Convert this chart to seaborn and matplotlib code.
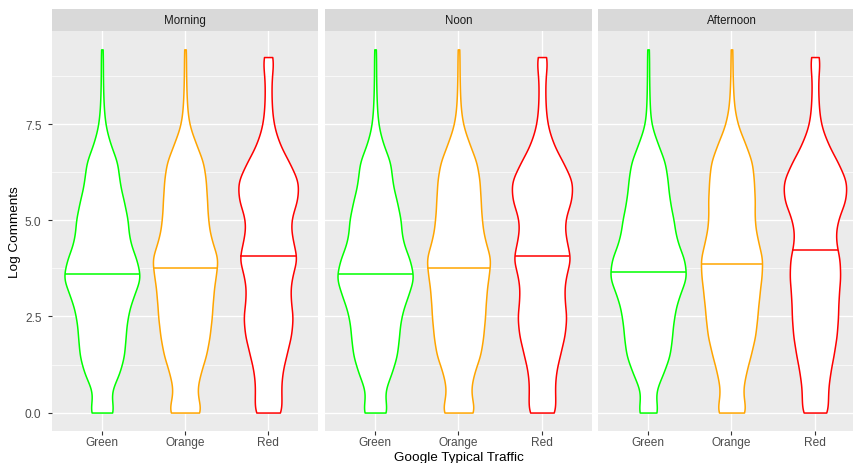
import numpy as np
import pandas as pd
import matplotlib
matplotlib.use("Agg")
import matplotlib.pyplot as plt
import seaborn as sns

# ---------------- data ----------------
periods = ["Morning", "Noon", "Afternoon"]
traffic = ["Green", "Orange", "Red"]
traffic_colors = ["#00FF00", "#FFA500", "#FF0000"]

# value levels of log comments at which the density profile was read
levels_base = [0.0, 0.5, 1.0, 1.5, 2.0, 2.5, 3.0, 3.5, 4.0, 4.5,
               5.0, 5.5, 6.0, 6.5, 7.0, 7.5, 8.0, 8.5, 9.0]
top_green_orange = 9.45
top_red = 9.25

# relative density (violin half-width) at each level
morning_green = [13.0, 7.0, 16.7, 21.3, 22.3, 24.0, 29.0, 37.5, 32.5, 25.3,
                 24.7, 20.7, 16.3, 15.2, 7.5, 3.0, 1.6, 1.1, 0.9, 0.8]
morning_orange = [17.5, 10.0, 14.0, 20.0, 23.0, 25.0, 26.0, 28.0, 31.5, 24.0,
                  21.3, 20.5, 19.5, 17.5, 10.0, 3.5, 1.8, 1.2, 0.9, 0.8]
morning_red = [13.5, 11.7, 12.5, 16.7, 21.3, 23.0, 20.0, 21.0, 27.5, 22.0,
               20.0, 27.0, 28.5, 19.5, 10.0, 4.8, 3.2, 3.0, 3.2, 3.4]

noon_green = [13.0, 7.5, 15.3, 20.8, 22.3, 24.0, 30.0, 37.0, 32.3, 24.7,
              24.3, 20.3, 15.7, 15.0, 7.0, 2.8, 1.6, 1.1, 0.9, 0.8]
noon_orange = [17.5, 10.5, 14.0, 21.0, 23.3, 25.0, 25.8, 27.8, 31.0, 24.2,
               21.8, 20.8, 20.0, 17.5, 10.0, 3.8, 1.8, 1.2, 0.9, 0.8]
noon_red = [13.5, 11.7, 12.3, 16.5, 21.0, 22.8, 20.2, 21.0, 27.3, 21.8,
            20.2, 27.3, 28.8, 19.5, 10.0, 4.8, 3.2, 3.0, 3.2, 3.4]

afternoon_green = [10.5, 5.5, 14.0, 20.7, 22.3, 24.0, 28.0, 36.5, 34.0, 26.0,
                   24.0, 20.0, 18.3, 16.3, 8.8, 2.6, 1.5, 1.1, 0.9, 0.8]
afternoon_orange = [16.0, 10.0, 13.7, 18.7, 23.3, 25.0, 26.7, 29.0, 30.5, 25.0,
                    22.0, 22.8, 21.7, 20.5, 13.3, 5.5, 2.3, 1.4, 0.9, 0.8]
afternoon_red = [13.3, 12.0, 14.2, 17.8, 20.8, 22.0, 22.3, 24.2, 23.8, 19.0,
                 21.0, 29.5, 30.8, 22.0, 12.0, 5.3, 3.5, 3.0, 3.0, 3.2]

median_morning = [3.61, 3.76, 4.08]
median_noon = [3.61, 3.76, 4.08]
median_afternoon = [3.65, 3.86, 4.23]

profiles = {
    "Morning": [morning_green, morning_orange, morning_red],
    "Noon": [noon_green, noon_orange, noon_red],
    "Afternoon": [afternoon_green, afternoon_orange, afternoon_red],
}
medians = {"Morning": median_morning, "Noon": median_noon,
           "Afternoon": median_afternoon}

# build observations (each level repeated in proportion to its density)
rows = []
for p in periods:
    for t, prof in zip(traffic, profiles[p]):
        top = top_red if t == "Red" else top_green_orange
        lv = np.array(levels_base + [top])
        counts = np.round(np.array(prof) * 10).astype(int)
        vals = np.repeat(lv, counts)
        rows.append(pd.DataFrame({"period": p, "traffic": t, "log_comments": vals}))
df = pd.concat(rows, ignore_index=True)

# ---------------- style ----------------
plt.rcParams["font.family"] = ["Liberation Sans", "DejaVu Sans"]

W, H = 854, 464
fig = plt.figure(figsize=(W / 100, H / 100), dpi=100)
fig.patch.set_facecolor("white")

panel_px = [(52, 318), (325, 592), (598, 865)]
top_px, bot_px = 32.3, 431.7
strip_top_px = 10.0

bw = lambda k: 0.31 / np.std(k.dataset, ddof=1)

for i, p in enumerate(periods):
    l, r = panel_px[i]
    ax = fig.add_axes([l / W, 1 - bot_px / H, (r - l) / W, (bot_px - top_px) / H])
    ax.set_facecolor("#EBEBEB")
    sub = df[df["period"] == p]
    sns.violinplot(data=sub, x="traffic", y="log_comments", hue="traffic",
                   order=traffic, hue_order=traffic, palette=traffic_colors,
                   fill=False, inner=None, cut=0, width=0.9, gridsize=250,
                   density_norm="area", common_norm=True, bw_method=bw,
                   linewidth=1.1, legend=False, ax=ax)
    # white fill, coloured outline, median line
    for coll in list(ax.collections):
        paths = coll.get_paths()
        if not paths:
            continue
        v = paths[0].vertices
        xc = int(round(np.nanmean(v[:, 0])))
        coll.set_facecolor("white")
        coll.set_edgecolor(traffic_colors[xc])
        coll.set_linewidth(1.1)
        coll.set_zorder(2)
        right = v[v[:, 0] > xc + 1e-9]
        order = np.argsort(right[:, 1])
        ys = right[order, 1]
        xs = right[order, 0] - xc
        med = medians[p][xc]
        hw = np.interp(med, ys, xs)
        ax.plot([xc - hw, xc + hw], [med, med], color=traffic_colors[xc],
                lw=1.1, zorder=3, solid_capstyle="butt")

    ax.set_xlim(-0.6, 2.6)
    ax.set_ylim(-0.4725, 9.92)
    ax.set_yticks([0, 2.5, 5.0, 7.5])
    ax.set_yticklabels(["0.0", "2.5", "5.0", "7.5"])
    ax.set_yticks([1.25, 3.75, 6.25, 8.75], minor=True)
    ax.set_xticks([0, 1, 2])
    ax.set_xticklabels(traffic)
    ax.grid(which="major", color="white", lw=1.0, zorder=0)
    ax.grid(which="minor", axis="y", color="white", lw=0.5, zorder=0)
    ax.set_axisbelow(True)
    for s in ax.spines.values():
        s.set_visible(False)
    ax.tick_params(axis="both", which="major", length=2.6, width=0.8,
                   color="#333333", labelcolor="#4D4D4D", labelsize=8.6)
    ax.tick_params(axis="x", pad=1.5)
    ax.tick_params(axis="y", pad=5)
    ax.tick_params(which="minor", length=0)
    if i > 0:
        ax.tick_params(axis="y", which="both", length=0, labelleft=False)
    ax.set_xlabel("")
    ax.set_ylabel("")

    # facet strip
    sax = fig.add_axes([l / W, 1 - top_px / H, (r - l) / W, (top_px - strip_top_px) / H])
    sax.set_facecolor("#D9D9D9")
    sax.set_xticks([])
    sax.set_yticks([])
    for s in sax.spines.values():
        s.set_visible(False)
    sax.text(0.5, 0.5, p, ha="center", va="center", fontsize=8.3,
             color="#1A1A1A", transform=sax.transAxes)

fig.text(458.5 / W, 1 - 458 / H, "Google Typical Traffic", ha="center",
         va="center", fontsize=9.7, color="black")
fig.text(15 / W, 1 - 232 / H, "Log Comments", ha="center", va="center",
         rotation=90, fontsize=9.7, color="black")

fig.savefig("out.png", dpi=100)
